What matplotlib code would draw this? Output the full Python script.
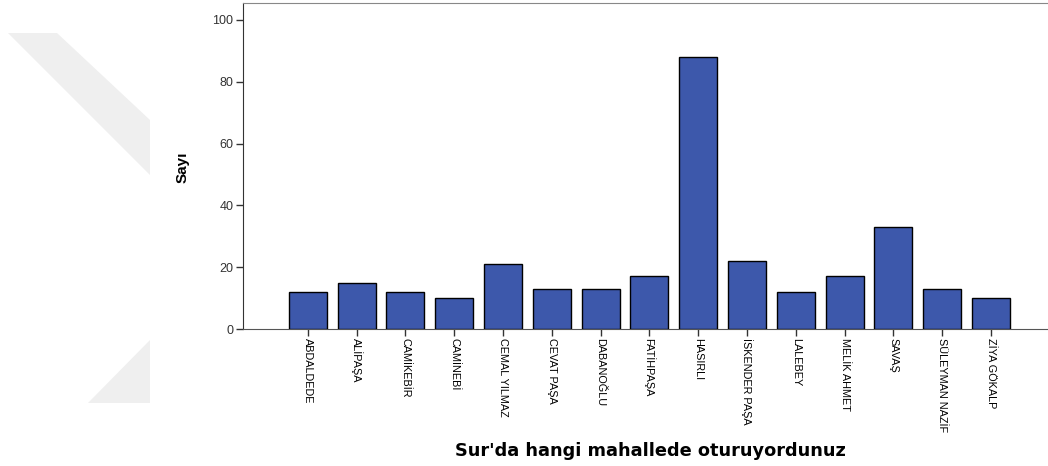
import numpy as np
import matplotlib.pyplot as plt
from matplotlib.patches import Polygon

# Mahalle sayilari
mahalleler = ['ABDALDEDE', 'ALİPAŞA', 'CAMİKEBİR', 'CAMİNEBİ', 'CEMAL YILMAZ',
              'CEVAT PAŞA', 'DABANOĞLU', 'FATİHPAŞA', 'HASIRLI', 'İSKENDER PAŞA',
              'LALEBEY', 'MELİK AHMET', 'SAVAŞ', 'SÜLEYMAN NAZİF', 'ZİYA GÖKALP']
sayilar = [12, 15, 12, 10, 21, 13, 13, 17, 88, 22, 12, 17, 33, 13, 10]
y_ticks = [0, 20, 40, 60, 80, 100]

W, H = 1048, 466
fig = plt.figure(figsize=(W / 100, H / 100), dpi=100)

# silik filigran (sol taraf)
def px(pts):
    return [(x / W, 1 - y / H) for x, y in pts]

fig.patches.append(Polygon(px([(8, 33), (57, 33), (150, 120), (150, 175)]),
                           closed=True, transform=fig.transFigure,
                           facecolor='#efefef', edgecolor='none', zorder=0))
fig.patches.append(Polygon(px([(88, 403), (150, 340), (150, 403)]),
                           closed=True, transform=fig.transFigure,
                           facecolor='#efefef', edgecolor='none', zorder=0))

ax = fig.add_axes([243 / W, 1 - 329 / H, 1 - 243 / W, (329 - 3) / H])
ax.patch.set_alpha(0)

x = np.arange(len(mahalleler))
ax.bar(x, sayilar, width=0.78, color='#3d58ab', edgecolor='black', linewidth=1.0, zorder=3)

ax.set_xlim(-1.33, 15.17)
ax.set_ylim(0, 105.5)
ax.set_yticks(y_ticks)
ax.set_yticklabels([str(v) for v in y_ticks], fontsize=9, color='#333333',
                   family=['Liberation Sans', 'DejaVu Sans'])
ax.set_xticks(x)
ax.set_xticklabels(mahalleler, rotation=270, fontsize=7.8, va='top', ha='center',
                   family=['Liberation Sans Narrow', 'Liberation Sans', 'DejaVu Sans'])
ax.tick_params(axis='both', length=5, width=1, color='#333333', direction='out')
ax.tick_params(axis='x', pad=1.5)
ax.tick_params(axis='y', pad=2)

ax.spines['right'].set_visible(False)
ax.spines['top'].set_color('#888888')
ax.spines['left'].set_color('#333333')
ax.spines['bottom'].set_color('#555555')

fig.text(183 / W, 1 - 167 / H, 'Sayı', rotation=90, ha='center', va='center',
         fontsize=11, fontweight='bold',
         family=['Liberation Sans Narrow', 'Liberation Sans', 'DejaVu Sans'])
fig.text(650 / W, 1 - 451 / H, "Sur'da hangi mahallede oturuyordunuz",
         ha='center', va='center', fontsize=12.8, fontweight='bold',
         family=['DejaVu Sans'])

plt.savefig('out.png', dpi=100)
